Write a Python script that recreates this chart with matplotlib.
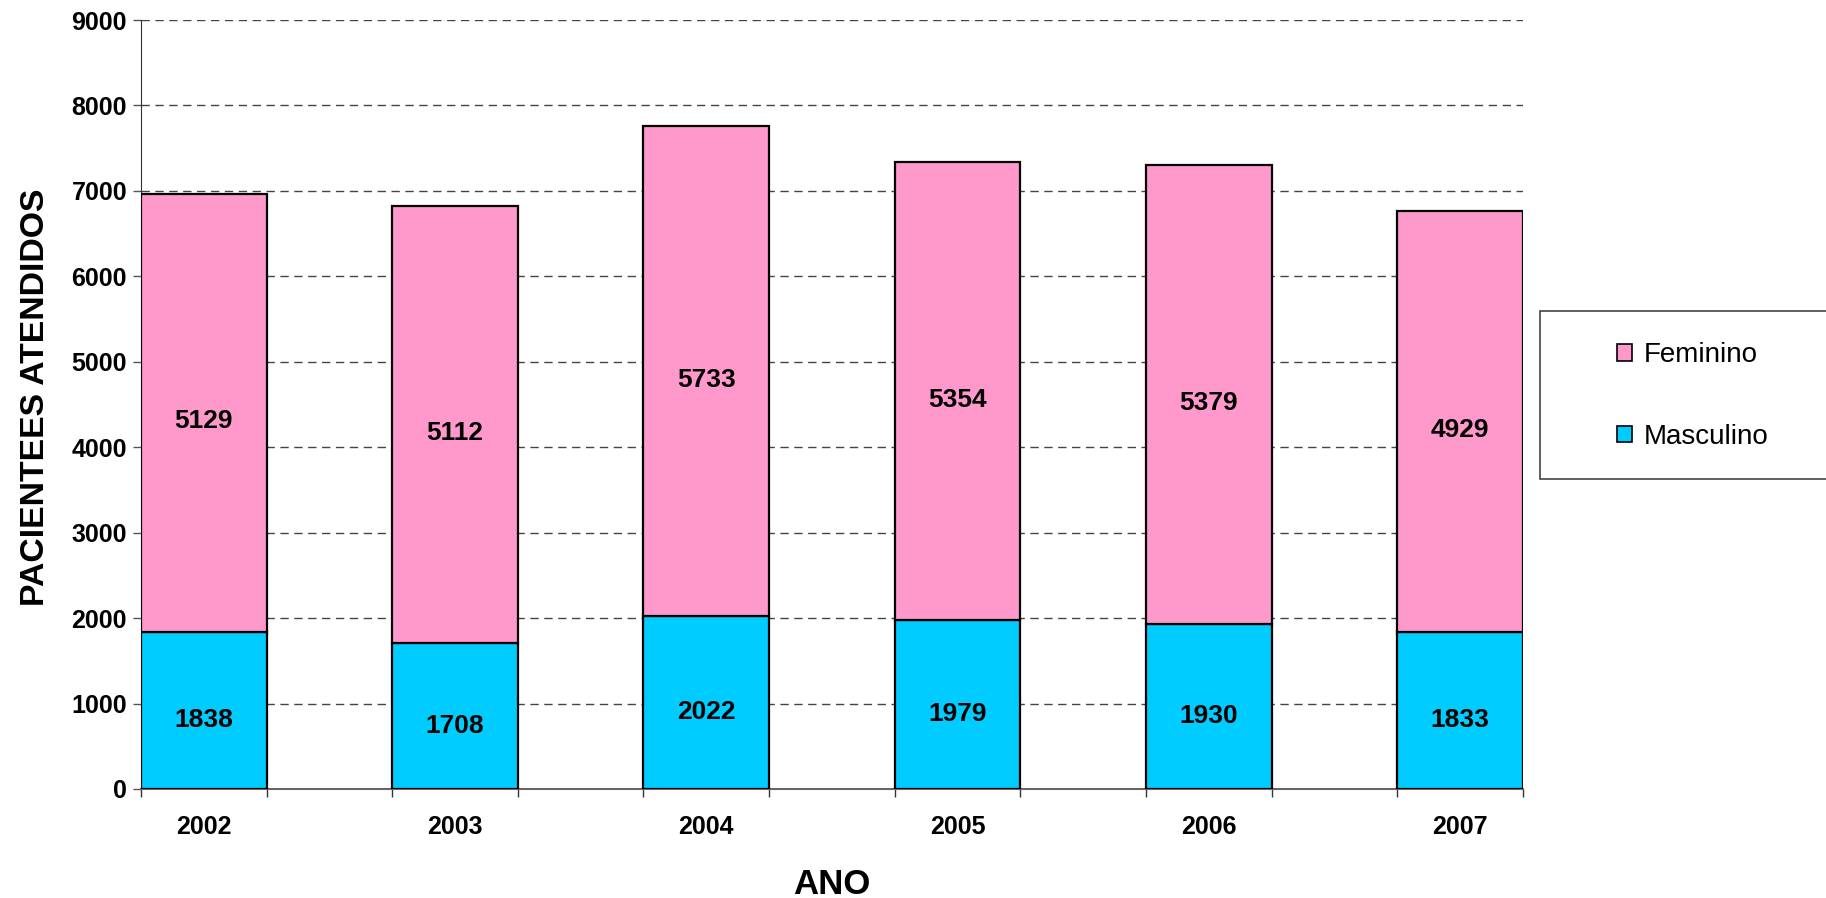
import matplotlib
matplotlib.use("Agg")
from matplotlib import pyplot as plt
from matplotlib.patches import Rectangle, Patch
import numpy as np

plt.rcParams['font.family'] = ['Liberation Sans', 'DejaVu Sans']

anos = ['2002', '2003', '2004', '2005', '2006', '2007']
masculino = [1838, 1708, 2022, 1979, 1930, 1833]
feminino = [5129, 5112, 5733, 5354, 5379, 4929]

cor_fem = '#FF99CC'
cor_masc = '#00CCFF'

fig = plt.figure(figsize=(18.26, 8.98), dpi=100)
ax = fig.add_axes([0.0772, 0.1214, 0.7568, 0.8563])

x = np.arange(len(anos))
larg = 0.5

ax.bar(x, masculino, larg, color=cor_masc, edgecolor='black', linewidth=1.6, zorder=3)
ax.bar(x, feminino, larg, bottom=masculino, color=cor_fem, edgecolor='black', linewidth=1.6, zorder=3)

# rótulos um pouco abaixo do centro de cada segmento, como no original
for xi, m, f in zip(x, masculino, feminino):
    ax.annotate(str(m), (xi, m / 2), xytext=(0, -7), textcoords='offset points',
                ha='center', va='center', fontsize=19, fontweight='bold', zorder=4)
    ax.annotate(str(f), (xi, m + f / 2), xytext=(0, -6), textcoords='offset points',
                ha='center', va='center', fontsize=19, fontweight='bold', zorder=4)

ax.set_xlim(-0.25, len(anos) - 0.75)
ax.set_ylim(0, 9000)
ax.set_yticks(np.arange(0, 9001, 1000))
ax.tick_params(axis='y', labelsize=18, length=6, width=1, color='#555555', pad=4)
for t in ax.get_yticklabels():
    t.set_fontweight('bold')

# ticks nas bordas das barras, rótulos no centro
ax.set_xticks(x)
ax.set_xticklabels(anos, fontsize=18, fontweight='bold')
ax.tick_params(axis='x', which='major', length=0, pad=19)
ax.set_xticks(np.concatenate([x - larg / 2, x + larg / 2]), minor=True)
ax.tick_params(axis='x', which='minor', length=6, width=1, color='#333333', direction='out')

ax.yaxis.grid(True, linestyle=(0, (6, 4)), color='#444444', linewidth=1, zorder=0)
ax.set_axisbelow(True)

ax.spines['top'].set_visible(False)
ax.spines['right'].set_visible(False)
ax.spines['left'].set_color('#333333')
ax.spines['bottom'].set_color('#666666')
ax.spines['bottom'].set_linewidth(1.5)

ax.set_ylabel('PACIENTEES ATENDIDOS', fontsize=24.3, fontweight='bold')
ax.set_xlabel('ANO', fontsize=25, fontweight='bold')
ax.yaxis.set_label_coords(-0.0765, 0.509)
ax.xaxis.set_label_coords(0.5, -0.1245)
ax.yaxis.label.set_va('center')
ax.xaxis.label.set_va('center')

# caixa da legenda (corta na borda direita)
fig.patches.append(Rectangle((1540 / 1826, 1 - 479 / 898), 0.2, 168 / 898,
                             transform=fig.transFigure, facecolor='white',
                             edgecolor='#444444', linewidth=1.2))
handles = [Patch(facecolor=cor_fem, edgecolor='black', linewidth=1.2),
           Patch(facecolor=cor_masc, edgecolor='black', linewidth=1.2)]
fig.legend(handles, ['Feminino', 'Masculino'], loc='center left',
           bbox_to_anchor=(1603 / 1826, 1 - 396 / 898), frameon=False,
           fontsize=20, handlelength=0.55, handleheight=0.55,
           handletextpad=0.4, labelspacing=2.0, borderpad=0)

fig.savefig('out.png', dpi=100)
